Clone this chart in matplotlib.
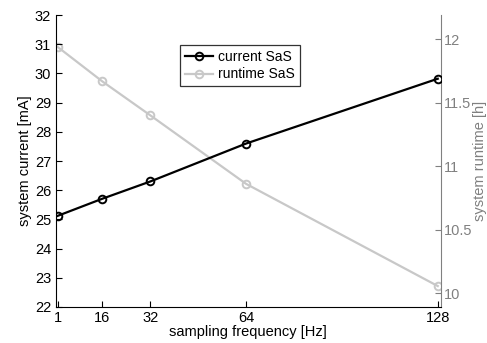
import matplotlib
matplotlib.use("Agg")
import matplotlib.pyplot as plt

freq = [1, 16, 32, 64, 128]
current_sas = [25.12, 25.71, 26.30, 27.60, 29.82]
runtime_sas = [11.94, 11.667, 11.40, 10.86, 10.055]
xticks = [1, 16, 32, 64, 128]
left_ticks = list(range(22, 33))
right_ticks = [10, 10.5, 11, 11.5, 12]
right_labels = ['10', '10.5', '11', '11.5', '12']

plt.rcParams['font.family'] = ['Liberation Sans', 'DejaVu Sans']
plt.rcParams['font.size'] = 10

fig = plt.figure(figsize=(4.87, 3.43), dpi=100)
ax = fig.add_axes([0.115, 0.105, 0.79, 0.851])
ax2 = ax.twinx()

gray = '#c8c8c8'
axgray = '#808080'

l1, = ax.plot(freq, current_sas, color='black', lw=1.6, marker='o', ms=5.5,
              mfc='none', mew=1.4, label='current SaS', zorder=3)
l2, = ax2.plot(freq, runtime_sas, color=gray, lw=1.6, marker='o', ms=5.5,
               mfc='none', mew=1.4, label='runtime SaS')

ax.set_xlim(0.5, 129)
ax.set_ylim(22, 32)
ax2.set_ylim(9.89, 12.19)
ax.set_xticks(xticks)
ax.set_yticks(left_ticks)
ax2.set_yticks(right_ticks)
ax2.set_yticklabels(right_labels)

for a in (ax, ax2):
    a.spines['top'].set_visible(False)
ax.spines['right'].set_visible(False)
ax2.spines['left'].set_visible(False)
ax2.spines['bottom'].set_visible(False)
ax2.spines['right'].set_color(axgray)

ax.tick_params(axis='both', direction='in', length=4, width=0.8, labelsize=10.5)
ax.tick_params(axis='x', labelsize=10.5, pad=3)
ax2.tick_params(axis='y', direction='in', length=4, width=0.8, colors=axgray,
                labelsize=10.5, labelcolor=axgray, pad=2)

ax.set_xlabel('sampling frequency [Hz]', fontsize=10.5, labelpad=0)
ax.set_ylabel('system current [mA]', fontsize=10.5, labelpad=2)
ax2.set_ylabel('system runtime [h]', fontsize=10.5, color=axgray)
ax2.yaxis.set_label_coords(1.085, 0.5)

ax.set_zorder(ax2.get_zorder() + 1)
ax.patch.set_visible(False)

leg = ax.legend(handles=[l1, l2], loc='upper left', bbox_to_anchor=(0.322, 0.897),
                frameon=True, fancybox=False, edgecolor='black', fontsize=10,
                handlelength=2.0, borderpad=0.35, labelspacing=0.25,
                handletextpad=0.4, borderaxespad=0)
leg.get_frame().set_linewidth(0.9)

fig.savefig('out.png', dpi=100)
